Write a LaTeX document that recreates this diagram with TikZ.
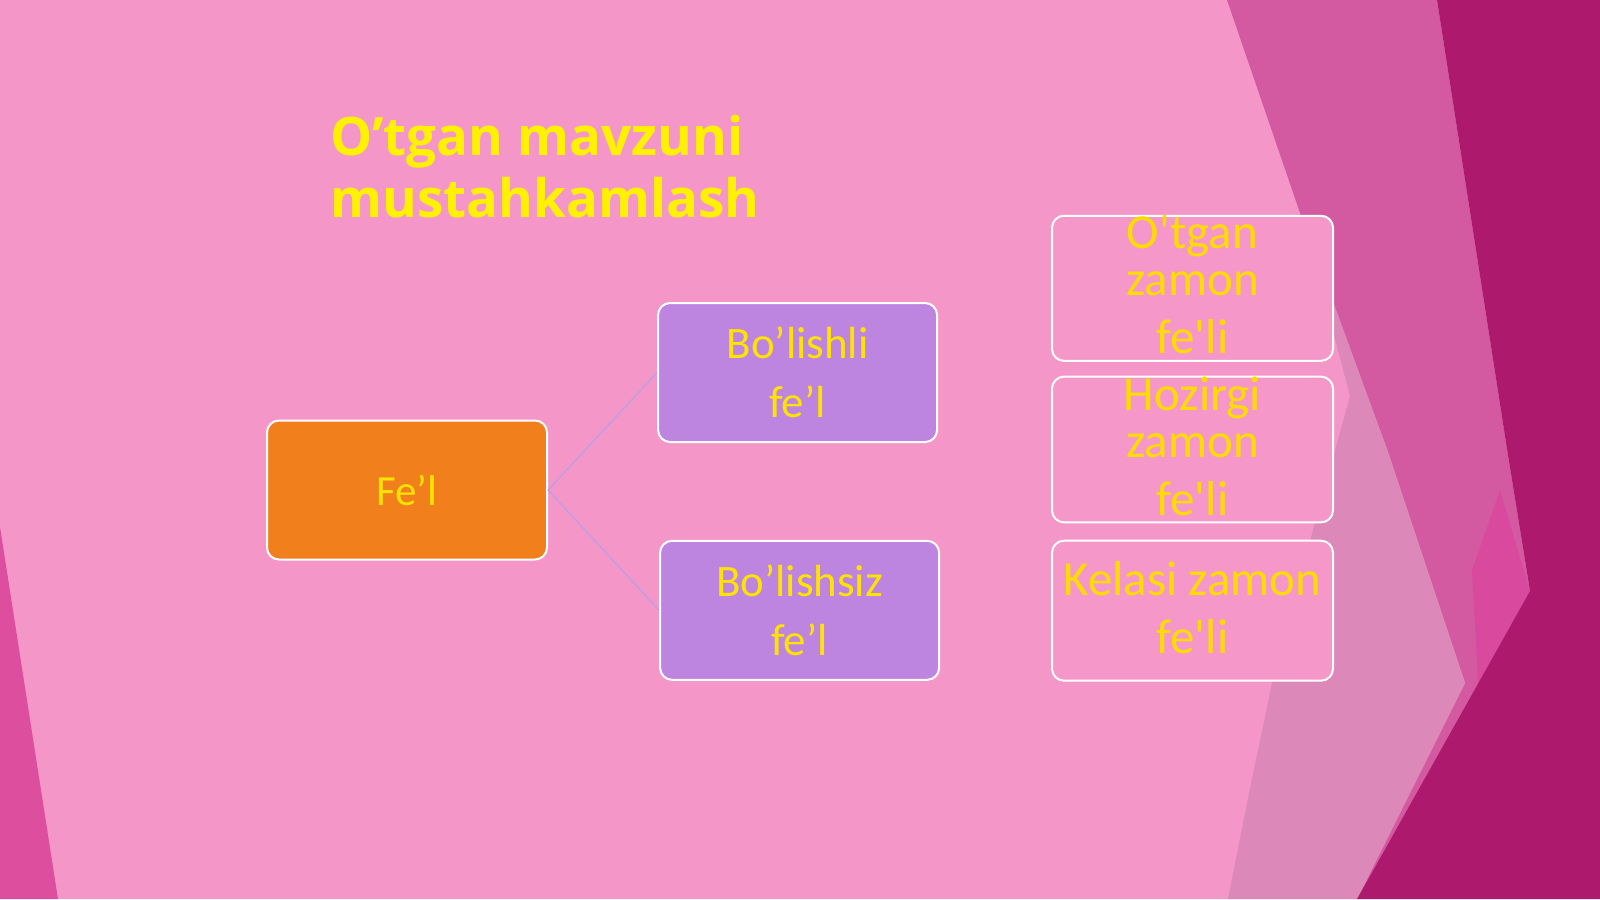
\documentclass[tikz,border=0pt]{standalone}
\usepackage{fontspec}
\usepackage{xcolor}
\setmainfont{Carlito}
\newfontfamily\headfont{Open Sans}
\definecolor{bgpink}{HTML}{F497C8}
\definecolor{midpink}{HTML}{D35AA1}
\definecolor{hotpink}{HTML}{D94A9E}
\definecolor{greypink}{HTML}{DC88B8}
\definecolor{darkpink}{HTML}{AD1A6D}
\definecolor{leftpink}{HTML}{DD4E9E}
\definecolor{fillorange}{HTML}{F07F1C}
\definecolor{fillviolet}{HTML}{BD84E0}
\definecolor{boxpink}{HTML}{F598C9}
\definecolor{txtyellow}{HTML}{FFE300}
\definecolor{tenseyellow}{HTML}{FFDC00}
\definecolor{headyellow}{HTML}{FFF200}
\definecolor{linkviolet}{HTML}{C29DE2}
\tikzset{box/.style={draw=white, line width=2pt, rounded corners=12pt,
   minimum width=280pt, minimum height=139pt, inner sep=0pt, align=center, text=txtyellow},
 rootbox/.style={box, fill=fillorange, font=\fontsize{43}{59}\selectfont},
 kindbox/.style={box, fill=fillviolet, minimum width=279pt, font=\fontsize{45}{59}\selectfont},
 tensebox/.style={box, fill=boxpink, minimum width=281pt, minimum height=140pt,
   text=tenseyellow, text depth=7pt, font=\fontsize{49}{58}\selectfont},
 link/.style={draw=linkviolet, line width=1.5pt},
 }

\begin{document}
\begin{tikzpicture}[x=1pt, y=-1pt]
        \useasboundingbox (0,0) rectangle (1600,899);
        \fill[bgpink] (0,0) rectangle (1600,899);
        \fill[leftpink] (0,527) -- (58,899) -- (0,899) -- cycle;
        \fill[midpink] (1227,0) -- (1437,0) -- (1507,449) -- (1530,591) -- (1357,899)
            -- (1465,683) -- (1387,449) -- (1300,213) -- cycle;
        \fill[greypink] (1305,225) -- (1387,449) -- (1465,683) -- (1357,899) -- (1228,899)
            -- (1248,798) -- (1272,683) -- (1313,530) -- (1350,396) -- cycle;
        \fill[hotpink] (1500,490) -- (1530,591) -- (1478,683) -- (1472,570) -- cycle;
        \fill[darkpink] (1437,0) -- (1600,0) -- (1600,899) -- (1357,899) -- (1530,591)
            -- (1507,449) -- cycle;
        \node[anchor=north west, inner sep=0pt, align=left, text=headyellow,
            font=\headfont\bfseries\fontsize{53}{62}\selectfont] (title) at (330,115)
            {O’tgan mavzuni\\mustahkamlash};
        \node[rootbox] (fel) at (407,490) {Fe’l};
        \node[kindbox] (bolishli) at (797.6,372.5) {Bo’lishli\\fe’l};
        \node[kindbox] (bolishsiz) at (799.6,610.3) {Bo’lishsiz\\fe’l};
        \node[tensebox] (otgan) at (1192.5,288.3) {O\textquotesingle tgan\\[-11pt]zamon\\fe\textquotesingle li};
        \node[tensebox] (hozirgi) at (1192.5,449.5) {Hozirgi\\[-11pt]zamon\\fe\textquotesingle li};
        \node[tensebox] (kelasi) at (1192.5,610.7) {Kelasi zamon\\fe\textquotesingle li};
        \draw[link] (fel.east) -- (bolishli.west);
        \draw[link] (fel.east) -- (bolishsiz.west);
    \end{tikzpicture}
\end{document}
